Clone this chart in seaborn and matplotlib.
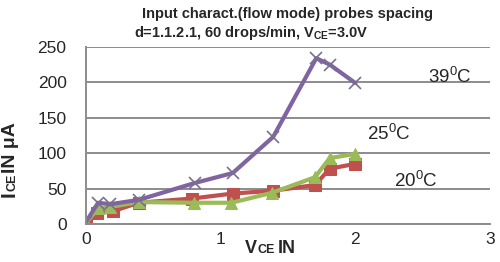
import pandas as pd
import matplotlib
matplotlib.use("Agg")
import matplotlib.pyplot as plt
import seaborn as sns

# readings taken off the chart
v_39 = [0, 0.09, 0.18, 0.39, 0.81, 1.09, 1.39, 1.71, 1.81, 2.0]
i_39 = [3, 30, 28, 34, 58, 72, 123, 234, 225, 199]
v_20 = [0, 0.08, 0.2, 0.39, 0.79, 1.09, 1.39, 1.7, 1.81, 2.0]
i_20 = [2, 15, 18, 30, 36, 43, 47, 55, 78, 85]
v_25 = [0, 0.09, 0.18, 0.39, 0.8, 1.08, 1.38, 1.7, 1.81, 2.0]
i_25 = [2, 22, 24, 31, 30, 30, 44, 66, 93, 99]
labels = ["39$^0$C", "25$^0$C", "20$^0$C"]

sns.set_style("white")
plt.rcParams["font.family"] = ["Liberation Sans", "DejaVu Sans"]
plt.rcParams["mathtext.default"] = "regular"

fig = plt.figure(figsize=(5, 2.62), dpi=100)
ax = fig.add_axes([0.172, 0.145, 0.808, 0.676])

sns.lineplot(x=v_20, y=i_20, ax=ax, color="#C0504D", lw=3, marker="s", markersize=8,
             markeredgecolor="#C0504D", sort=False)
sns.lineplot(x=v_25, y=i_25, ax=ax, color="#9BBB59", lw=3, marker="^", markersize=9,
             markeredgecolor="#9BBB59", sort=False)
sns.lineplot(x=v_39, y=i_39, ax=ax, color="#8064A2", lw=3, marker="x", markersize=9,
             markeredgewidth=1.2, markeredgecolor="#7A6F8E", sort=False)

ax.set_xlim(0, 3)
ax.set_ylim(0, 250)
ax.set_xticks([0, 1, 2, 3])
ax.set_yticks(range(0, 251, 50))
ax.yaxis.grid(True, color="#8C8C8C", lw=1.4)
ax.set_axisbelow(True)
for s in ["top", "right"]:
    ax.spines[s].set_visible(False)
for s in ["bottom", "left"]:
    ax.spines[s].set_color("#8C8C8C")
    ax.spines[s].set_linewidth(1.4)
ax.tick_params(axis="x", direction="out", length=4, color="#8C8C8C", labelsize=12.5, pad=2)
ax.tick_params(axis="y", length=0, labelsize=12.5, pad=14)

ax.text(2.54, 199, labels[0], fontsize=13.5)
ax.text(2.09, 119, labels[1], fontsize=13.5)
ax.text(2.29, 52, labels[2], fontsize=13.5)

fig.text(0.574, 0.93, "Input charact.(flow mode) probes spacing", ha="center",
         fontsize=10.5, fontweight="bold")
fig.text(0.502, 0.86, "d=1.1.2.1, 60 drops/min, V$_{CE}$=3.0V", ha="center",
         fontsize=10.5, fontweight="bold")

# y label pieces (rotated)
kw = dict(rotation=90, rotation_mode="anchor", ha="left", va="baseline", fontweight="bold")
fig.text(0.03, 0.248, "I", fontsize=15, **kw)
fig.text(0.03, 0.272, "CE", fontsize=9, **kw)
fig.text(0.03, 0.34, "IN μA", fontsize=14, **kw)

# x label pieces
kw = dict(ha="left", va="baseline", fontweight="bold")
fig.text(0.49, 0.034, "V", fontsize=13, **kw)
fig.text(0.516, 0.034, "CE", fontsize=9, **kw)
fig.text(0.556, 0.034, "IN", fontsize=13, **kw)

fig.savefig("out.png", dpi=100)
